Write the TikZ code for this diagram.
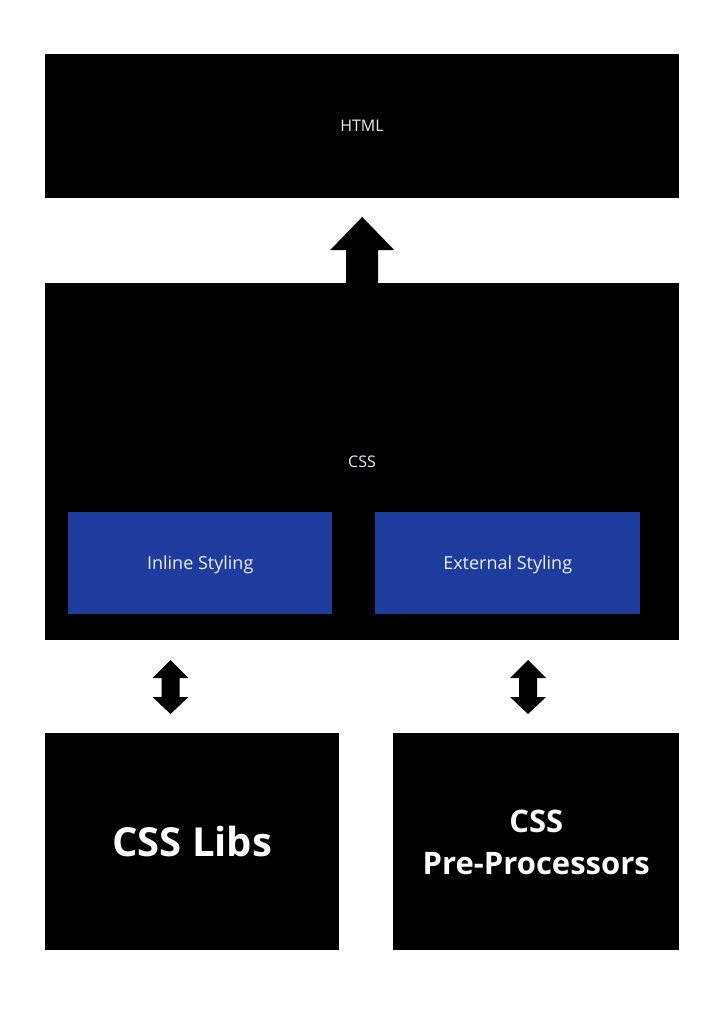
\documentclass[tikz,border=0pt]{standalone}
\usepackage{fontspec}
\setmainfont{Open Sans}
\usetikzlibrary{calc}
\definecolor{boxblue}{RGB}{29,60,158}
\definecolor{softwhite}{RGB}{236,238,245}
\tikzset{
  blackbox/.style={fill=black, draw=none, inner sep=0pt, anchor=north west},
  bluebox/.style={fill=boxblue, draw=none, inner sep=0pt, anchor=north west},
  smalllabel/.style={text=softwhite, font=\fontsize{16}{19}\selectfont},
  bluelabel/.style={text=softwhite, font=\fontsize{18}{21}\selectfont},
  blockarrow/.style={fill=black, draw=none},
}
\begin{document}
\begin{tikzpicture}[x=1pt,y=-1pt]
\useasboundingbox (0,0) rectangle (724,1024);
\fill[white] (0,0) rectangle (724,1024);
% boxes
\node[blackbox, minimum width=634pt, minimum height=144pt] (html) at (45,54) {};
\node[smalllabel] (htmllbl) at (362,126) {HTML};
\node[blackbox, minimum width=634pt, minimum height=357pt] (css) at (45,283) {};
\node[smalllabel] (csslbl) at (362,462) {CSS};
\node[bluebox, minimum width=264pt, minimum height=102pt] (inline) at (68,512) {};
\node[bluelabel] at ($(inline.center)+(0,1.5)$) {Inline Styling};
\node[bluebox, minimum width=265pt, minimum height=102pt] (external) at (375,512) {};
\node[bluelabel] at ($(external.center)+(0,1.5)$) {External Styling};
\node[blackbox, minimum width=294pt, minimum height=217pt] (libs) at (45,733) {};
\node[text=white, font=\bfseries\fontsize{40}{46}\selectfont] at ($(libs.center)+(0,0)$) {CSS Libs};
\node[blackbox, minimum width=286pt, minimum height=217pt] (pre) at (393,733) {};
\node[text=white, font=\bfseries\fontsize{31}{42}\selectfont, align=center] at ($(pre.center)+(0,1)$) {CSS\\Pre-Processors};
% up arrow from css to html
\coordinate (upbase) at (css.north);
\fill[blockarrow] ($(upbase)+(-16,0)$) -- ++(0,-33) -- ++(-16,0) -- ($(upbase)+(0,-66)$) -- ($(upbase)+(32,-33)$) -- ++(-16,0) -- ($(upbase)+(16,0)$) -- cycle;
% double arrows
\coordinate (la) at (170.5,660);
\coordinate (ra) at (528,660);
\foreach \c in {la,ra}{
  \fill[blockarrow] (\c) -- ($(\c)+(18,18)$) -- ($(\c)+(9,18)$) -- ($(\c)+(9,37)$) -- ($(\c)+(18,37)$) -- ($(\c)+(0,54)$) -- ($(\c)+(-18,37)$) -- ($(\c)+(-9,37)$) -- ($(\c)+(-9,18)$) -- ($(\c)+(-18,18)$) -- cycle;
}
\end{tikzpicture}
\end{document}
